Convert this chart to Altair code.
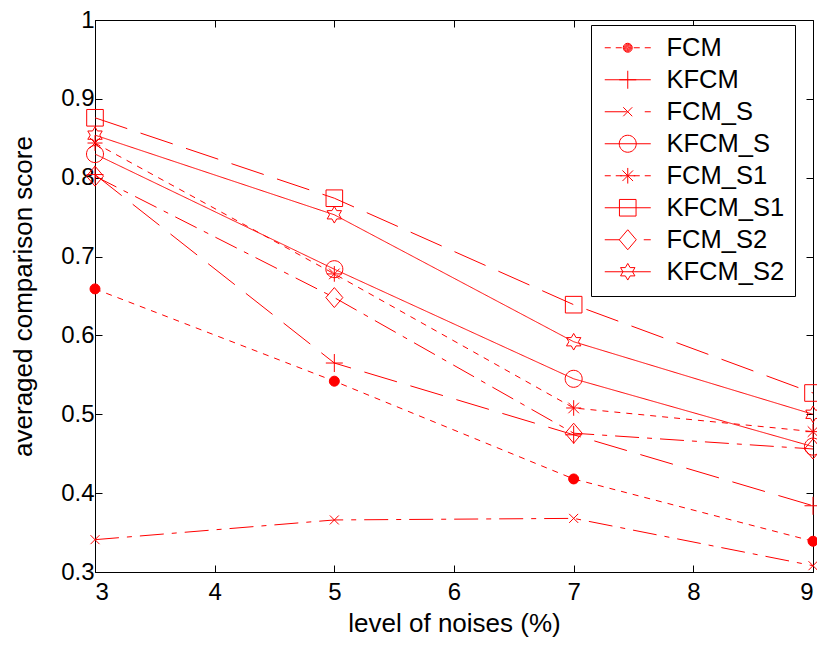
import altair as alt
import pandas as pd

# ---- data ----
noise_levels = [3, 5, 7, 9]
series_names = ["FCM", "KFCM", "FCM_S", "KFCM_S", "FCM_S1", "KFCM_S1", "FCM_S2", "KFCM_S2"]
fcm = [0.659, 0.542, 0.418, 0.339]
kfcm = [0.804, 0.565, 0.474, 0.384]
fcm_s = [0.341, 0.366, 0.368, 0.308]
kfcm_s = [0.830, 0.684, 0.545, 0.459]
fcm_s1 = [0.844, 0.678, 0.508, 0.478]
kfcm_s1 = [0.876, 0.774, 0.639, 0.527]
fcm_s2 = [0.802, 0.648, 0.476, 0.456]
kfcm_s2 = [0.854, 0.753, 0.592, 0.500]
y_ticks = [0.3, 0.4, 0.5, 0.6, 0.7, 0.8, 0.9, 1.0]
x_ticks = [3, 4, 5, 6, 7, 8, 9]

values = [fcm, kfcm, fcm_s, kfcm_s, fcm_s1, kfcm_s1, fcm_s2, kfcm_s2]
rows = []
for name, vals in zip(series_names, values):
    for x, v in zip(noise_levels, vals):
        rows.append({"series": name, "noise": x, "score": v})
df = pd.DataFrame(rows)

# ---- styles ----
RED = "#ff0000"
FONT = "Liberation Sans"

dashes = [[6, 6], [34, 14], [24, 8, 5, 8], [1, 0], [6, 6], [34, 14], [24, 8, 5, 8], [1, 0]]


def ring(r):
    return f"M{r},0A{r},{r},0,1,1,{-r},0A{r},{r},0,1,1,{r},0Z"


# marker paths in unit coordinates (1 unit = 10 px at size 400)
m_dot = ring(0.5)
m_dot_solid = "".join(ring(r) for r in [0.45, 0.36, 0.27, 0.18, 0.09])  # stroked rings = filled dot
m_plus = "M-0.85,0L0.85,0M0,-0.9L0,0.9"
m_x = "M-0.45,-0.45L0.45,0.45M-0.45,0.45L0.45,-0.45"
m_circle = ring(0.85)
m_star = "M-0.75,0L0.75,0M0,-0.78L0,0.78M-0.53,-0.53L0.53,0.53M-0.53,0.53L0.53,-0.53"
m_square = "M-0.83,-0.83L0.83,-0.83L0.83,0.83L-0.83,0.83Z"
m_diamond = "M0,-1L0.85,0L0,1L-0.85,0Z"
m_hex = ("M0,-0.83L0.24,-0.415L0.719,-0.415L0.479,0L0.719,0.415L0.24,0.415L0,0.83"
         "L-0.24,0.415L-0.719,0.415L-0.479,0L-0.719,-0.415L-0.24,-0.415Z")
markers = [m_dot, m_plus, m_x, m_circle, m_star, m_square, m_diamond, m_hex]
legend_markers = [m_dot_solid] + markers[1:]
fills = [RED] + ["transparent"] * 7

# legend line samples (segments drawn into the legend symbol)
seg_dotted = "M-2.3,0L-1.7,0M-1.2,0L-0.6,0M0.6,0L1.2,0M1.7,0L2.3,0"
seg_solid = "M-2.3,0L2.3,0"
seg_dashdot = "M-2.3,0L-0.1,0M1.7,0L2.3,0"
seg_dashdot2 = "M-2.3,0L-0.8,0M1.6,0L2.3,0"
legend_segs = [seg_dotted, seg_solid, seg_dashdot, seg_solid, seg_dotted, seg_solid, seg_dashdot2, seg_solid]
legend_paths = [s + m for s, m in zip(legend_segs, legend_markers)]

x_scale = alt.Scale(domain=[3, 9], nice=False, zero=False)
y_scale = alt.Scale(domain=[0.3, 1.0], nice=False, zero=False)

INWARD = {"expr": "-7"}

x_axis = alt.Axis(values=x_ticks, title="level of noises (%)", grid=False,
                  tickSize=INWARD, labelPadding=15, titlePadding=6)
y_axis = alt.Axis(values=y_ticks, title="averaged comparison score", grid=False,
                  tickSize=INWARD, labelPadding=8, titlePadding=24,
                  labelExpr="datum.value == 1 ? '1' : format(datum.value, '.1f')")

base = alt.Chart(df)

lines = base.mark_line(color=RED, strokeWidth=1).encode(
    x=alt.X("noise:Q", scale=x_scale, axis=x_axis),
    y=alt.Y("score:Q", scale=y_scale, axis=y_axis),
    strokeDash=alt.StrokeDash("series:N", scale=alt.Scale(domain=series_names, range=dashes), legend=None),
    detail="series:N",
)

frame = base.mark_line(opacity=0).encode(
    x=alt.X("noise:Q", scale=x_scale,
            axis=alt.Axis(orient="top", values=x_ticks, labels=False, title=None, domain=False,
                          grid=False, tickSize=INWARD)),
    y=alt.Y("score:Q", scale=y_scale,
            axis=alt.Axis(orient="right", values=y_ticks, labels=False, title=None, domain=False,
                          grid=False, tickSize=INWARD)),
    detail="series:N",
)

points = base.mark_point(color=RED, size=400, strokeWidth=1, opacity=1).encode(
    x=alt.X("noise:Q", scale=x_scale, axis=None),
    y=alt.Y("score:Q", scale=y_scale, axis=None),
    shape=alt.Shape("series:N", scale=alt.Scale(domain=series_names, range=markers), legend=None),
    fill=alt.Fill("series:N", scale=alt.Scale(domain=series_names, range=fills), legend=None),
)

leg = alt.Legend(
    orient="none", legendX=496, legendY=5, title=None,
    labelFont=FONT, labelFontSize=25.5, labelColor="black",
    symbolSize=400, symbolStrokeWidth=1, symbolStrokeColor=RED, symbolOpacity=1,
    symbolFillColor="transparent",
    strokeColor="black", fillColor="white", padding=10, rowPadding=5,
    symbolOffset=14, labelOffset=26,
)

legend_layer = base.mark_point(color=RED, size=400, strokeWidth=1, opacity=0, filled=False).encode(
    x=alt.X("noise:Q", scale=x_scale, axis=None),
    y=alt.Y("score:Q", scale=y_scale, axis=None),
    shape=alt.Shape("series:N", scale=alt.Scale(domain=series_names, range=legend_paths),
                    legend=leg, sort=series_names),
)

chart = (
    alt.layer(lines, frame, points, legend_layer)
    .resolve_scale(shape="independent", fill="independent")
    .resolve_axis(x="independent", y="independent")
    .properties(
        width=718, height=552,
        autosize=alt.AutoSizeParams(type="none"),
        padding={"left": 87, "top": 12, "right": 4, "bottom": 68},
        background="white",
    )
    .configure_view(stroke="black", strokeWidth=1)
    .configure_axis(
        labelFont=FONT, labelFontSize=24, labelColor="black",
        titleFont=FONT, titleFontSize=26, titleFontWeight="normal", titleColor="black",
        domainColor="black", domainWidth=1, tickColor="black", tickWidth=1,
    )
)

chart.save("out.html", embed_options={"renderer": "svg", "actions": False})
